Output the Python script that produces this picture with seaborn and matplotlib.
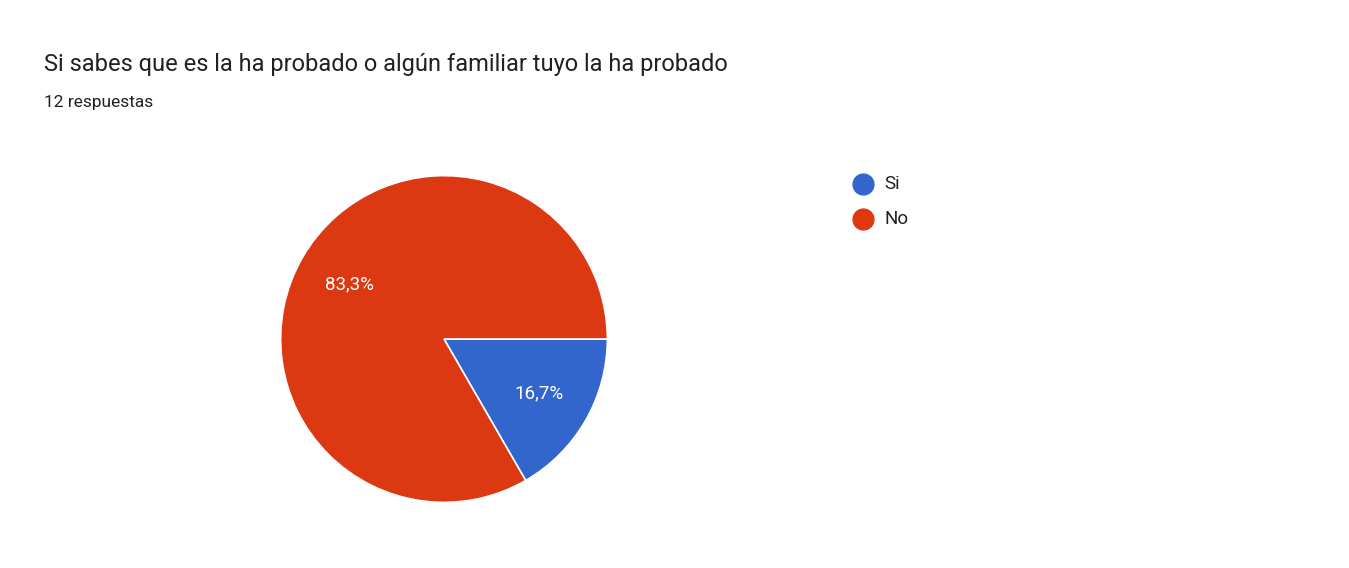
import matplotlib
matplotlib.use("Agg")
import matplotlib.pyplot as plt
import seaborn as sns
from matplotlib.lines import Line2D

sns.set_theme(style="white")
plt.rcParams['font.family'] = ['Roboto', 'DejaVu Sans']

categories = ["Si", "No"]
values = [2, 10]
pct_labels = ["16,7%", "83,3%"]
colors = ["#3366cc", "#dc3912"]

W, H = 1349, 568
fig = plt.figure(figsize=(W/100, H/100), dpi=100)
fig.patch.set_facecolor("white")
cx, cy, r = 444, 339, 165
ax = fig.add_axes([(cx-r)/W, (H-cy-r)/H, 2*r/W, 2*r/H])
wedges, _ = ax.pie(values, colors=colors, startangle=0, counterclock=False,
                   radius=1, wedgeprops=dict(edgecolor="white", linewidth=1.2))
import numpy as np
for w, lab in zip(wedges, pct_labels):
    ang = np.deg2rad((w.theta1 + w.theta2) / 2)
    ax.text(0.67*np.cos(ang), 0.67*np.sin(ang), lab, color="white",
            fontsize=13.5, ha="center", va="center")
ax.set_xlim(-1.01, 1.01); ax.set_ylim(-1.01, 1.01)
ax.set_aspect("equal"); ax.axis("off")

fig.text(44/W, 1-65/H, "Si sabes que es la ha probado o algún familiar tuyo la ha probado",
         fontsize=17, color="#202124", va="center", ha="left")
fig.text(44/W, 1-103/H, "12 respuestas", fontsize=12.5, color="#202124", va="center", ha="left")

for i, (c, col) in enumerate(zip(categories, colors)):
    y = 1 - (184 + 35*i)/H
    fig.add_artist(Line2D([863/W], [y], marker="o", markersize=15, color=col,
                          transform=fig.transFigure, linestyle="none"))
    fig.text(884/W, y, c, fontsize=13.5, color="#222222", va="center", ha="left")

fig.savefig("out.png", dpi=100, facecolor="white")
